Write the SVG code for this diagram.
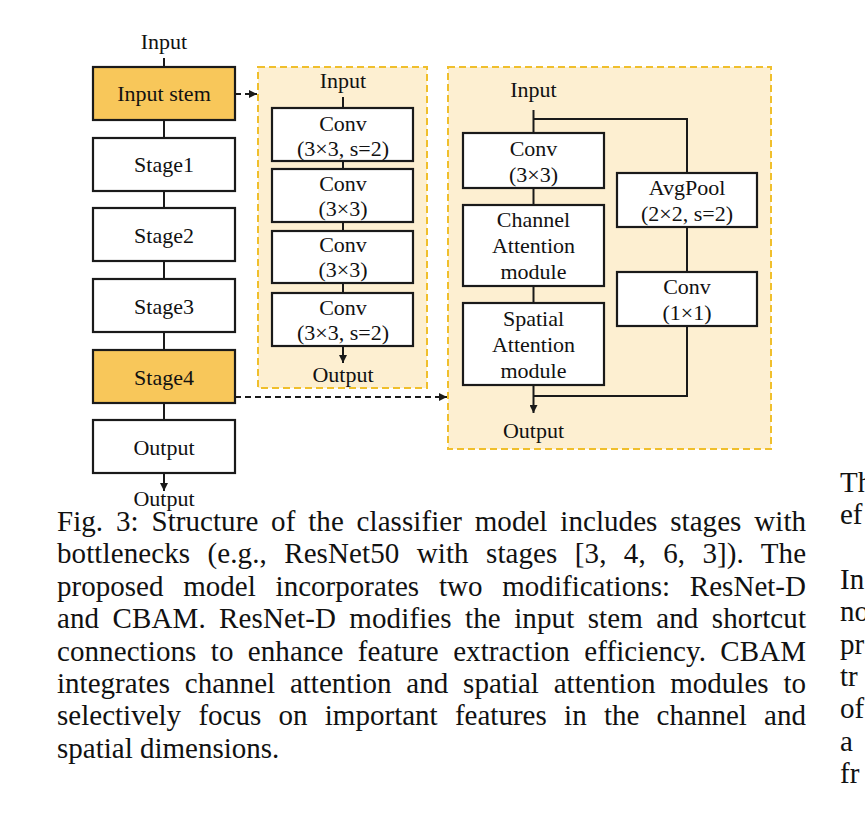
<svg xmlns="http://www.w3.org/2000/svg" width="865" height="825" viewBox="0 0 865 825">
<style>
.box{fill:#ffffff;stroke:#1a1a1a;stroke-width:2.2}
.hl{fill:#F8C75A}
.panel{fill:#FDEFD1;stroke:#F0BF2C;stroke-width:2;stroke-dasharray:7 4}
.t{font-family:"Liberation Serif","Times New Roman",serif;font-size:22px;text-anchor:middle;fill:#111}
.cap{font-family:"Liberation Serif","Times New Roman",serif;font-size:29px;fill:#111}
.ln{stroke:#1a1a1a;stroke-width:2;fill:none}
.dash{stroke-dasharray:6 4}
</style>
<defs>
<marker id="ah" markerUnits="userSpaceOnUse" markerWidth="8" markerHeight="8" refX="8" refY="4" orient="auto">
<path d="M0,0 L8,4 L0,8 z" fill="#1a1a1a"/>
</marker>
</defs>
<rect id="panel-stem" class="panel" x="258" y="67" width="169" height="321"/>
<rect id="panel-cbam" class="panel" x="448" y="67" width="323" height="382"/>
<g id="connectors">
<line class="ln" x1="164" y1="58" x2="164" y2="67"/>
<line class="ln" x1="164" y1="120" x2="164" y2="138"/>
<line class="ln" x1="164" y1="191" x2="164" y2="208"/>
<line class="ln" x1="164" y1="261" x2="164" y2="279"/>
<line class="ln" x1="164" y1="332" x2="164" y2="350"/>
<line class="ln" x1="164" y1="403" x2="164" y2="420"/>
<line class="ln" x1="164" y1="473" x2="164" y2="491" marker-end="url(#ah)"/>
<line class="ln dash" x1="235" y1="94" x2="257" y2="94" marker-end="url(#ah)"/>
<line class="ln dash" x1="235" y1="397" x2="447" y2="397" marker-end="url(#ah)"/>
<line class="ln" x1="343" y1="97" x2="343" y2="108"/>
<line class="ln" x1="343" y1="161" x2="343" y2="169"/>
<line class="ln" x1="343" y1="222" x2="343" y2="231"/>
<line class="ln" x1="343" y1="283" x2="343" y2="293"/>
<line class="ln" x1="343" y1="346" x2="343" y2="363" marker-end="url(#ah)"/>
<line class="ln" x1="533.5" y1="110" x2="533.5" y2="133"/>
<polyline class="ln" points="533.5,119 687,119 687,173"/>
<line class="ln" x1="533.5" y1="188" x2="533.5" y2="205"/>
<line class="ln" x1="533.5" y1="286" x2="533.5" y2="303"/>
<line class="ln" x1="687" y1="227" x2="687" y2="272"/>
<polyline class="ln" points="687,326 687,396 533.5,396"/>
<line class="ln" x1="533.5" y1="385" x2="533.5" y2="413" marker-end="url(#ah)"/>
</g>
<text class="t" x="164" y="49">Input</text>
<g id="input-stem"><rect class="box hl" x="93" y="67" width="142" height="53"/><text class="t" x="164" y="101">Input stem</text></g>
<g id="stage1"><rect class="box" x="93" y="138" width="142" height="53"/><text class="t" x="164" y="172">Stage1</text></g>
<g id="stage2"><rect class="box" x="93" y="208" width="142" height="53"/><text class="t" x="164" y="243">Stage2</text></g>
<g id="stage3"><rect class="box" x="93" y="279" width="142" height="53"/><text class="t" x="164" y="314">Stage3</text></g>
<g id="stage4"><rect class="box hl" x="93" y="350" width="142" height="53"/><text class="t" x="164" y="385">Stage4</text></g>
<g id="output"><rect class="box" x="93" y="420" width="142" height="53"/><text class="t" x="164" y="455">Output</text></g>
<text class="t" x="164" y="506">Output</text>
<text class="t" x="343" y="88">Input</text>
<g id="conv1"><rect class="box" x="272" y="108" width="141" height="53"/><text class="t" x="343" y="131">Conv</text><text class="t" x="343" y="156">(3×3, s=2)</text></g>
<g id="conv2"><rect class="box" x="272" y="169" width="141" height="53"/><text class="t" x="343" y="191">Conv</text><text class="t" x="343" y="216">(3×3)</text></g>
<g id="conv3"><rect class="box" x="272" y="231" width="141" height="52"/><text class="t" x="343" y="252">Conv</text><text class="t" x="343" y="277">(3×3)</text></g>
<g id="conv4"><rect class="box" x="272" y="293" width="141" height="53"/><text class="t" x="343" y="315">Conv</text><text class="t" x="343" y="340">(3×3, s=2)</text></g>
<text class="t" x="343" y="382">Output</text>
<text class="t" x="533.5" y="97">Input</text>
<g id="cbam-conv"><rect class="box" x="463" y="133" width="141" height="55"/><text class="t" x="533.5" y="156">Conv</text><text class="t" x="533.5" y="182">(3×3)</text></g>
<g id="channel-attention"><rect class="box" x="463" y="205" width="141" height="81"/><text class="t" x="533.5" y="227">Channel</text><text class="t" x="533.5" y="253">Attention</text><text class="t" x="533.5" y="279">module</text></g>
<g id="spatial-attention"><rect class="box" x="463" y="303" width="141" height="82"/><text class="t" x="533.5" y="326">Spatial</text><text class="t" x="533.5" y="352">Attention</text><text class="t" x="533.5" y="378">module</text></g>
<g id="avgpool"><rect class="box" x="617" y="173" width="140" height="54"/><text class="t" x="687" y="195">AvgPool</text><text class="t" x="687" y="221">(2×2, s=2)</text></g>
<g id="conv1x1"><rect class="box" x="617" y="272" width="140" height="54"/><text class="t" x="687" y="294">Conv</text><text class="t" x="687" y="320">(1×1)</text></g>
<text class="t" x="533.5" y="438">Output</text>
<g id="caption">
<text class="cap" x="57" y="531" word-spacing="5.5" textLength="749" lengthAdjust="spacing">Fig. 3: Structure of the classifier model includes stages with</text>
<text class="cap" x="57" y="563.4" word-spacing="10" textLength="749" lengthAdjust="spacing">bottlenecks (e.g., ResNet50 with stages [3, 4, 6, 3]). The</text>
<text class="cap" x="57" y="595.8" word-spacing="12.5" textLength="749" lengthAdjust="spacing">proposed model incorporates two modifications: ResNet-D</text>
<text class="cap" x="57" y="628.2" word-spacing="6" textLength="749" lengthAdjust="spacing">and CBAM. ResNet-D modifies the input stem and shortcut</text>
<text class="cap" x="57" y="660.6" word-spacing="7" textLength="749" lengthAdjust="spacing">connections to enhance feature extraction efficiency. CBAM</text>
<text class="cap" x="57" y="693" word-spacing="7.5" textLength="749" lengthAdjust="spacing">integrates channel attention and spatial attention modules to</text>
<text class="cap" x="57" y="725.4" word-spacing="10" textLength="749" lengthAdjust="spacing">selectively focus on important features in the channel and</text>
<text class="cap" x="57" y="757.8">spatial dimensions.</text>
</g>
<g id="next-column">
<text class="cap" x="840" y="492">Th</text>
<text class="cap" x="840" y="524">ef</text>
<text class="cap" x="840" y="589">In</text>
<text class="cap" x="840" y="621">no</text>
<text class="cap" x="840" y="654">pr</text>
<text class="cap" x="840" y="686">tr</text>
<text class="cap" x="840" y="718">of</text>
<text class="cap" x="840" y="751">a</text>
<text class="cap" x="840" y="783">fr</text>
</g>
</svg>
